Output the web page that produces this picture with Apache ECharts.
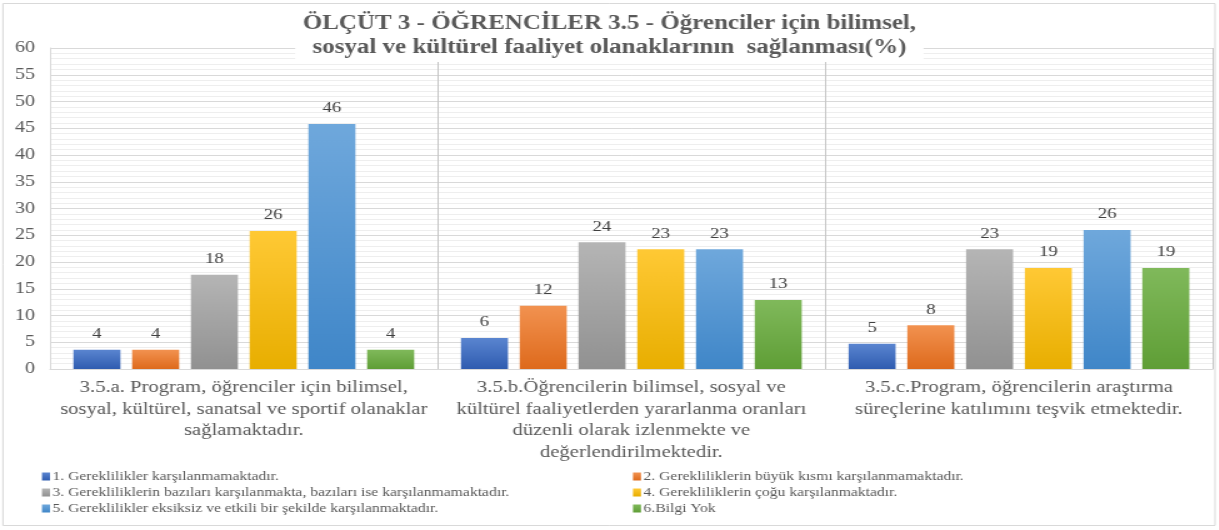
<!DOCTYPE html>
<html><head><meta charset="utf-8">
<script src="https://cdn.jsdelivr.net/npm/echarts@6/dist/echarts.min.js"></script>
<style>
html,body{margin:0;padding:0;background:#fff;overflow:hidden}
#wrap{width:1219px;height:530px;overflow:hidden}
#c{width:975.2px;height:530px;transform-origin:0 0;transform:scaleX(1.25)}
</style>
</head><body><div id="wrap"><div id="c"></div></div>
<script>
const categories = [
  "3.5.a. Program, öğrenciler için bilimsel,\nsosyal, kültürel, sanatsal ve sportif olanaklar\nsağlamaktadır.",
  "3.5.b.Öğrencilerin bilimsel, sosyal ve\nkültürel faaliyetlerden yararlanma oranları\ndüzenli olarak izlenmekte ve\ndeğerlendirilmektedir.",
  "3.5.c.Program, öğrencilerin araştırma\nsüreçlerine katılımını teşvik etmektedir."
];
const seriesNames = [
  "1. Gereklilikler karşılanmamaktadır.",
  "2. Gerekliliklerin büyük kısmı karşılanmamaktadır.",
  "3. Gerekliliklerin bazıları karşılanmakta, bazıları ise karşılanmamaktadır.",
  "4. Gerekliliklerin çoğu karşılanmaktadır.",
  "5. Gereklilikler eksiksiz ve etkili bir şekilde karşılanmaktadır.",
  "6.Bilgi Yok"
];
const s1 = [3.6, 5.8, 4.7];
const s2 = [3.6, 11.8, 8.2];
const s3 = [17.6, 23.7, 22.4];
const s4 = [25.8, 22.4, 18.9];
const s5 = [45.8, 22.4, 26.0];
const s6 = [3.6, 12.9, 18.9];
const labels1 = [4, 6, 5];
const labels2 = [4, 12, 8];
const labels3 = [18, 24, 23];
const labels4 = [26, 23, 19];
const labels5 = [46, 23, 26];
const labels6 = [4, 13, 19];
const colors = [["#5a85d0","#2f5cb0"],["#f29250","#de6a1c"],["#b5b5b5","#919191"],["#ffc935","#e8ae00"],["#6fa8dc","#3f86c8"],["#80b95b","#5f9e36"]];
const allData = [s1,s2,s3,s4,s5,s6];
const allLabels = [labels1,labels2,labels3,labels4,labels5,labels6];
const serif = "'Liberation Serif', serif";
const K = 1.25;

const legendPos = [[42,470],[633,470],[42,486],[633,486],[42,502],[633,502]];
const chart = echarts.init(document.getElementById('c'), null, {renderer:'canvas'});
chart.setOption({
  animation:false,
  backgroundColor:'#fff',
  textStyle:{fontFamily:serif},
  title:{
    text:"ÖLÇÜT 3 - ÖĞRENCİLER 3.5 - Öğrenciler için bilimsel,\nsosyal ve kültürel faaliyet olanaklarının  sağlanması(%)",
    left:'center', top:12,
    backgroundColor:'#fff', padding:[0,6,2,6],
    textStyle:{fontFamily:serif,fontSize:20,fontWeight:'bold',color:'#595959',lineHeight:24}
  },
  graphic:[{type:'rect',shape:{x:3/K,y:3.5,width:1212/K,height:522},style:{fill:'none',stroke:'#d9d9d9',lineWidth:1},silent:true,z:-1}],
  legend: seriesNames.map((n,i)=>({
    data:[n],left:legendPos[i][0]/K,top:legendPos[i][1],padding:0,
    itemWidth:8/K,itemHeight:8,icon:'rect',
    textStyle:{fontFamily:serif,fontSize:12.5,color:'#595959',padding:[0,0,0,-3]}
  })),
  grid:{left:50/K,right:6/K,top:48,bottom:161},
  xAxis:{type:'category',data:categories,
    axisLine:{lineStyle:{color:'#d9d9d9'}},axisTick:{show:false},
    splitLine:{show:true,lineStyle:{color:'#c6c6c6'}},
    axisLabel:{fontFamily:serif,fontSize:16.5,color:'#595959',lineHeight:21.5,margin:8,interval:0}},
  yAxis:{type:'value',min:0,max:60,interval:5,
    axisLine:{show:true,lineStyle:{color:'#d9d9d9'}},
    axisLabel:{fontFamily:serif,fontSize:16,color:'#595959',margin:12},
    splitLine:{lineStyle:{color:'#d9d9d9'}},
    minorTick:{show:false,splitNumber:5},
    minorSplitLine:{show:true,lineStyle:{color:'#eeeeee'}}},
  series: allData.map((d,i)=>({
    name:seriesNames[i],type:'bar',data:d,barWidth:47/K,barGap:'25%',
    itemStyle:{color:new echarts.graphic.LinearGradient(0,0,0,1,[{offset:0,color:colors[i][0]},{offset:1,color:colors[i][1]}])},
    label:{show:true,position:'top',distance:8,fontFamily:serif,fontSize:15,color:'#404040',
      formatter:p=>allLabels[i][p.dataIndex]}
  })),
  color: colors.map(c=>c[1])
});
</script></body></html>
